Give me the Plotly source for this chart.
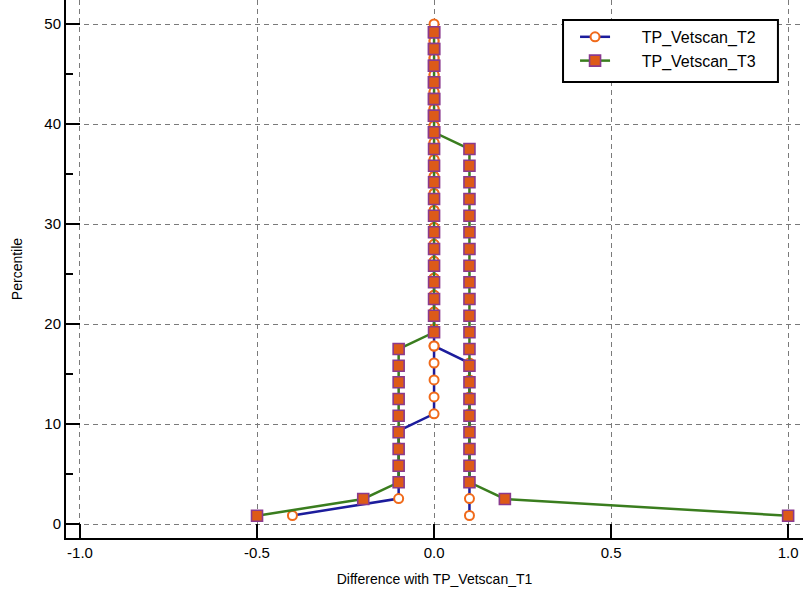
import plotly.graph_objects as go

# Series T2 (sorted differences and their mountain-plot percentiles)
t2_x = [-0.4] + [-0.1] * 5 + [0.0] * 43 + [0.1] * 10
t2_y = [0.85, 2.54, 4.24, 5.93, 7.63, 9.32, 11.02, 12.71, 14.41, 16.10,
        17.80, 19.49, 21.19, 22.88, 24.58, 26.27, 27.97, 29.66, 31.36, 33.05,
        34.75, 36.44, 38.14, 39.83, 41.53, 43.22, 44.92, 46.61, 48.31, 50.00,
        48.31, 46.61, 44.92, 43.22, 41.53, 39.83, 38.14, 36.44, 34.75, 33.05,
        31.36, 29.66, 27.97, 26.27, 24.58, 22.88, 21.19, 19.49, 17.80, 16.10,
        14.41, 12.71, 11.02, 9.32, 7.63, 5.93, 4.24, 2.54, 0.85]

# Series T3
t3_x = [-0.5, -0.2] + [-0.1] * 9 + [0.0] * 26 + [0.1] * 21 + [0.2, 1.0]
t3_y = [0.83, 2.50, 4.17, 5.83, 7.50, 9.17, 10.83, 12.50, 14.17, 15.83,
        17.50, 19.17, 20.83, 22.50, 24.17, 25.83, 27.50, 29.17, 30.83, 32.50,
        34.17, 35.83, 37.50, 39.17, 40.83, 42.50, 44.17, 45.83, 47.50, 49.17,
        49.17, 47.50, 45.83, 44.17, 42.50, 40.83, 39.17, 37.50, 35.83, 34.17,
        32.50, 30.83, 29.17, 27.50, 25.83, 24.17, 22.50, 20.83, 19.17, 17.50,
        15.83, 14.17, 12.50, 10.83, 9.17, 7.50, 5.83, 4.17, 2.50, 0.83]

x_ticks = [-1.0, -0.5, 0.0, 0.5, 1.0]
x_tick_labels = ["-1.0", "-0.5", "0.0", "0.5", "1.0"]
y_ticks = [0, 10, 20, 30, 40, 50]
y_tick_labels = ["0", "10", "20", "30", "40", "50"]

font = "Liberation Sans, Arial, sans-serif"
pad = "\u00a0" * 6

fig = go.Figure()
fig.add_trace(go.Scatter(
    x=t2_x, y=t2_y, mode="lines+markers", name=pad + "TP_Vetscan_T2",
    line=dict(color="#1c1c9c", width=2.5),
    marker=dict(symbol="circle", size=9, color="white",
                line=dict(color="#f06a1a", width=2)),
))
fig.add_trace(go.Scatter(
    x=t3_x, y=t3_y, mode="lines+markers", name=pad + "TP_Vetscan_T3",
    line=dict(color="#3a7d1e", width=2.5),
    marker=dict(symbol="square", size=11, color="#dd5a18",
                line=dict(color="#8a3a8e", width=1.6)),
))

# legend frame (paper coordinates of the plot area)
fig.add_shape(type="rect", xref="paper", yref="paper",
              x0=0.6744, x1=0.966, y0=0.8476, y1=0.963,
              line=dict(color="black", width=2), fillcolor="white", layer="above")

fig.update_layout(
    width=803, height=590,
    margin=dict(l=66, r=0, t=0, b=52),
    paper_bgcolor="white", plot_bgcolor="white",
    font=dict(family=font, size=14, color="black"),
    showlegend=True,
    legend=dict(
        x=0.6907, y=0.963, xanchor="left", yanchor="top",
        borderwidth=0, bgcolor="rgba(0,0,0,0)",
        font=dict(family=font, size=16, color="black"),
        tracegroupgap=0,
    ),
    xaxis=dict(
        range=[-1.0395, 1.042],
        tickvals=x_ticks, ticktext=x_tick_labels,
        ticks="inside", ticklen=14, tickwidth=2, tickcolor="black",
        showline=True, linewidth=2, linecolor="black",
        showgrid=True, gridcolor="#7a7a7a", gridwidth=1.3, griddash="5px,4px",
        zeroline=False,
        title=dict(text="Difference with TP_Vetscan_T1",
                   font=dict(family=font, size=14), standoff=14),
        tickfont=dict(family=font, size=15),
    ),
    yaxis=dict(
        range=[-1.4, 52.4],
        tickvals=y_ticks, ticktext=y_tick_labels,
        ticks="inside", ticklen=14, tickwidth=2, tickcolor="black",
        minor=dict(ticks="inside", ticklen=7, tickwidth=1.5, tickcolor="black",
                   tickvals=[5, 15, 25, 35, 45], showgrid=False),
        showline=True, linewidth=2, linecolor="black",
        showgrid=True, gridcolor="#7a7a7a", gridwidth=1.3, griddash="5px,4px",
        zeroline=False,
        title=dict(text="Percentile", font=dict(family=font, size=14), standoff=18),
        tickfont=dict(family=font, size=15),
    ),
)

fig.write_html("out.html")
